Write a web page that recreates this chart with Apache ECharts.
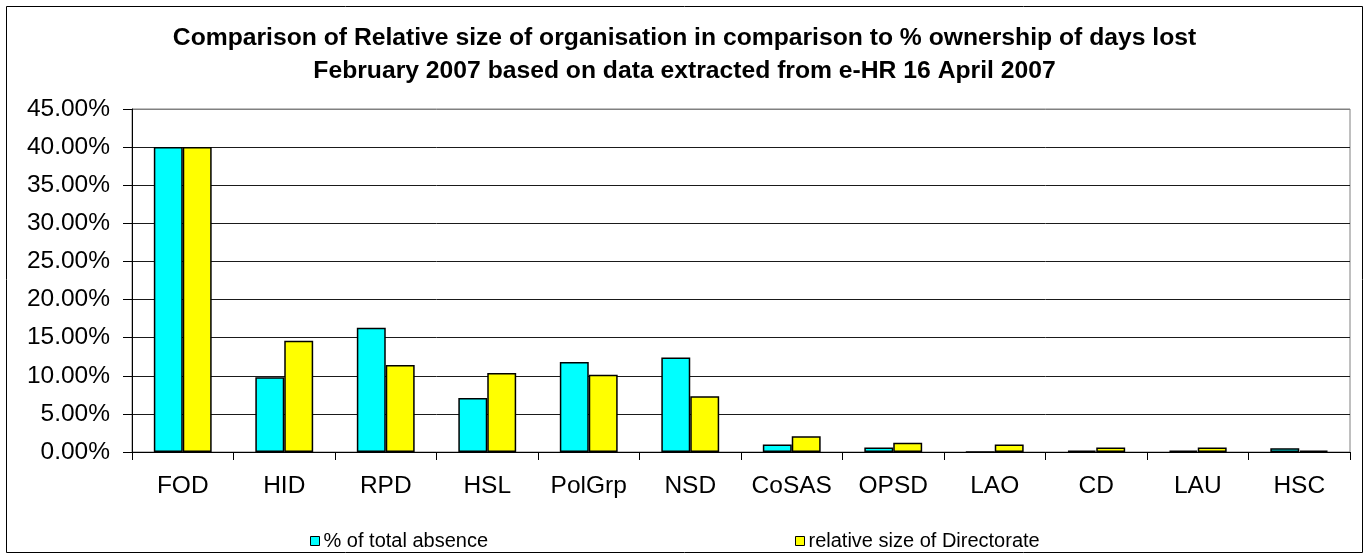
<!DOCTYPE html>
<html>
<head>
<meta charset="utf-8">
<script src="https://cdn.jsdelivr.net/npm/echarts@6/dist/echarts.min.js"></script>
<style>
html,body{margin:0;padding:0;background:#fff;}
#chart{width:1369px;height:558px;}
</style>
</head>
<body>
<div id="chart"></div>
<script>
const titleLines = [
  'Comparison of Relative size of organisation in comparison to % ownership of days lost',
  'February 2007 based on data extracted from e-HR 16 April 2007'
];
const categories = ['FOD','HID','RPD','HSL','PolGrp','NSD','CoSAS','OPSD','LAO','CD','LAU','HSC'];
const seriesNames = ['% of total absence','relative size of Directorate'];
const absence = [40.0, 9.8, 16.3, 7.1, 11.8, 12.4, 1.0, 0.6, 0.0, 0.17, 0.17, 0.5];
const relSize = [40.0, 14.6, 11.4, 10.35, 10.15, 7.3, 2.05, 1.2, 1.0, 0.6, 0.6, 0.17];
const yMin = 0, yMax = 45, yStep = 5;

const FONT = "'Liberation Sans', Arial, sans-serif";
const chart = echarts.init(document.getElementById('chart'));
const gridColors = [];
for (let v = yMin; v <= yMax; v += yStep) gridColors.push(v === yMax ? '#808080' : '#1a1a1a');

const legendCommon = {
  itemWidth: 9, itemHeight: 9, itemGap: 5, icon: 'rect', top: 526,
  itemStyle: {borderColor: '#000', borderWidth: 1},
  textStyle: {fontFamily: FONT, fontSize: 20, color: '#000', padding: [0,0,0,-1]}
};

chart.setOption({
  backgroundColor: '#fff',
  animation: false,
  title: {
    text: titleLines.join('\n'),
    left: 'center',
    top: 17,
    textStyle: {fontFamily: FONT, fontSize: 24.7, fontWeight: 'bold', color: '#000', lineHeight: 33}
  },
  legend: [
    Object.assign({data: [seriesNames[0]], left: 305}, legendCommon),
    Object.assign({data: [seriesNames[1]], left: 790}, legendCommon)
  ],
  grid: {left: 132, right: 19, top: 109, bottom: 106, show: true, borderColor: '#808080', borderWidth: 1},
  xAxis: {
    type: 'category',
    data: categories,
    axisLine: {lineStyle: {color: '#000', width: 1}},
    axisTick: {show: true, length: 8, lineStyle: {color: '#000'}},
    axisLabel: {fontFamily: FONT, fontSize: 24.5, color: '#000', margin: 22, interval: 0}
  },
  yAxis: {
    type: 'value',
    min: yMin, max: yMax, interval: yStep,
    axisLine: {show: true, lineStyle: {color: '#000', width: 1}},
    axisTick: {show: true, length: 9, lineStyle: {color: '#000'}},
    axisLabel: {fontFamily: FONT, fontSize: 24.5, color: '#000', margin: 22,
      formatter: v => v.toFixed(2) + '%'},
    splitLine: {show: true, lineStyle: {color: gridColors, width: 1}}
  },
  series: [
    {name: seriesNames[0], type: 'bar', data: absence, barGap: '0%', barCategoryGap: '43%',
     itemStyle: {color: '#00FFFF', borderColor: '#000', borderWidth: 1.5}},
    {name: seriesNames[1], type: 'bar', data: relSize, barGap: '0%', barCategoryGap: '43%',
     itemStyle: {color: '#FFFF00', borderColor: '#000', borderWidth: 1.5}}
  ],
  graphic: [
    {type: 'rect', shape: {x: 6.5, y: 6.5, width: 1356, height: 546},
     style: {fill: 'none', stroke: '#000', lineWidth: 1}, z: 100}
  ]
});
</script>
</body>
</html>
